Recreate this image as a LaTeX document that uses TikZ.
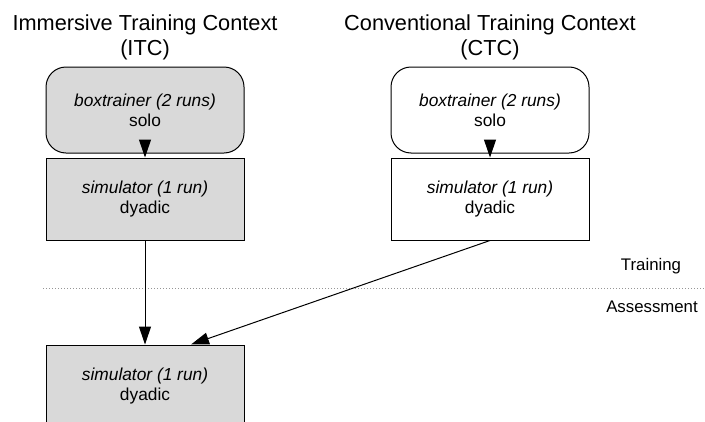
\documentclass[tikz,border=0pt]{standalone}
\usepackage{fontspec}
\setmainfont{Liberation Sans}
\usetikzlibrary{arrows.meta,calc}
\definecolor{boxgray}{RGB}{217,217,217}
\definecolor{dotgray}{RGB}{150,150,150}
\begin{document}
\begin{tikzpicture}[x=0.75pt,y=-0.75pt,
  title/.style={align=center,font=\fontsize{16.3pt}{18.75pt}\selectfont},
  boxtext/.style={align=center,font=\fontsize{13pt}{15pt}\selectfont},
  stage/.style={boxtext,draw=black,line width=0.75pt,minimum width=148.5pt,inner sep=0pt},
  roundstage/.style={stage,rounded corners=15pt,minimum height=64.5pt},
  flatstage/.style={stage,minimum height=61.5pt},
  shaded/.style={fill=boxgray},
  flow/.style={draw=black,line width=0.75pt,-{Triangle[length=13.5pt,width=9pt]}},
  phase/.style={align=center,font=\fontsize{12.6pt}{15pt}\selectfont}]
\useasboundingbox (0,0) rectangle (705,421);

% column headings
\node[title] (itc) at (145,37.5) {Immersive Training Context\\(ITC)};
\node[title] (ctc) at (490,37.5) {Conventional Training Context\\(CTC)};

% immersive column
\node[roundstage,shaded] (itcbox) at (145,110) {\textit{boxtrainer (2 runs)}\\solo};
\node[flatstage,shaded] (itcsim) at (145,199) {\textit{simulator (1 run)}\\dyadic};

% conventional column
\node[roundstage] (ctcbox) at (490,110) {\textit{boxtrainer (2 runs)}\\solo};
\node[flatstage] (ctcsim) at (490,199) {\textit{simulator (1 run)}\\dyadic};

% assessment
\node[flatstage,shaded] (test) at (145,386) {\textit{simulator (1 run)}\\dyadic};

% phase separator
\coordinate (sepL) at (43,288);
\coordinate (sepR) at (705,288);
\draw[dotgray,line width=0.75pt,dash pattern=on 0.75pt off 1.5pt] (sepL) -- (sepR);
\node[phase] (train) at (651,266) {Training};
\node[phase] (assess) at (652,307) {Assessment};

% connectors
\draw[flow] (itcbox.south) -- (itcsim.north);
\draw[flow] (ctcbox.south) -- (ctcsim.north);
\draw[flow] (itcsim.south) -- (test.north);
\draw[flow] (ctcsim.south) -- ([xshift=34.5pt]test.north);
\end{tikzpicture}
\end{document}
